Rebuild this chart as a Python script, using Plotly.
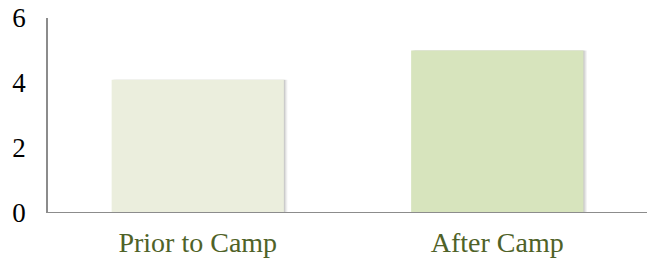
import plotly.graph_objects as go

categories = ["Prior to Camp", "After Camp"]
values = [4.1, 5.0]
bar_colors = ["#EBEEDD", "#D7E4BD"]
y_ticks = [0, 2, 4, 6]

BAR_W = 0.575

fig = go.Figure()
# soft drop shadow (style only: same data, slight offset)
for shift, alpha in [(0.012, 0.05), (0.008, 0.07), (0.004, 0.09)]:
    fig.add_trace(go.Bar(
        x=categories, y=values,
        marker=dict(color=f"rgba(0,0,0,{alpha})", line=dict(width=0)),
        width=BAR_W, offset=-BAR_W / 2 + shift,
        hoverinfo="skip",
    ))
fig.add_trace(go.Bar(
    x=categories, y=values,
    marker=dict(color=bar_colors, line=dict(width=0)),
    width=BAR_W, offset=-BAR_W / 2,
    hoverinfo="skip",
))

fig.update_layout(
    width=647, height=265,
    barmode="overlay",
    margin=dict(l=48, r=0, t=18, b=52, autoexpand=False),
    paper_bgcolor="white", plot_bgcolor="white",
    showlegend=False,
    font=dict(family="Liberation Serif, DejaVu Serif, serif"),
)
fig.add_shape(type="line", xref="paper", yref="y", x0=0, x1=1, y0=0, y1=0,
              line=dict(color="#8c8c8c", width=2), layer="above")
fig.update_xaxes(
    showline=False,
    showgrid=False, ticks="",
    tickfont=dict(size=28, color="#4F6228"),
    ticklabelstandoff=10,
)
fig.update_yaxes(
    range=[0, 6], tickvals=y_ticks,
    showline=True, linecolor="#8c8c8c", linewidth=1.5,
    showgrid=False, ticks="", zeroline=False,
    tickfont=dict(size=27, color="black"),
    ticklabelstandoff=15,
)
fig.write_html(
    "out.html",
    config={"displayModeBar": False},
    post_script="document.documentElement.style.overflow='hidden';document.body.style.margin='0';document.body.style.overflow='hidden';",
)
